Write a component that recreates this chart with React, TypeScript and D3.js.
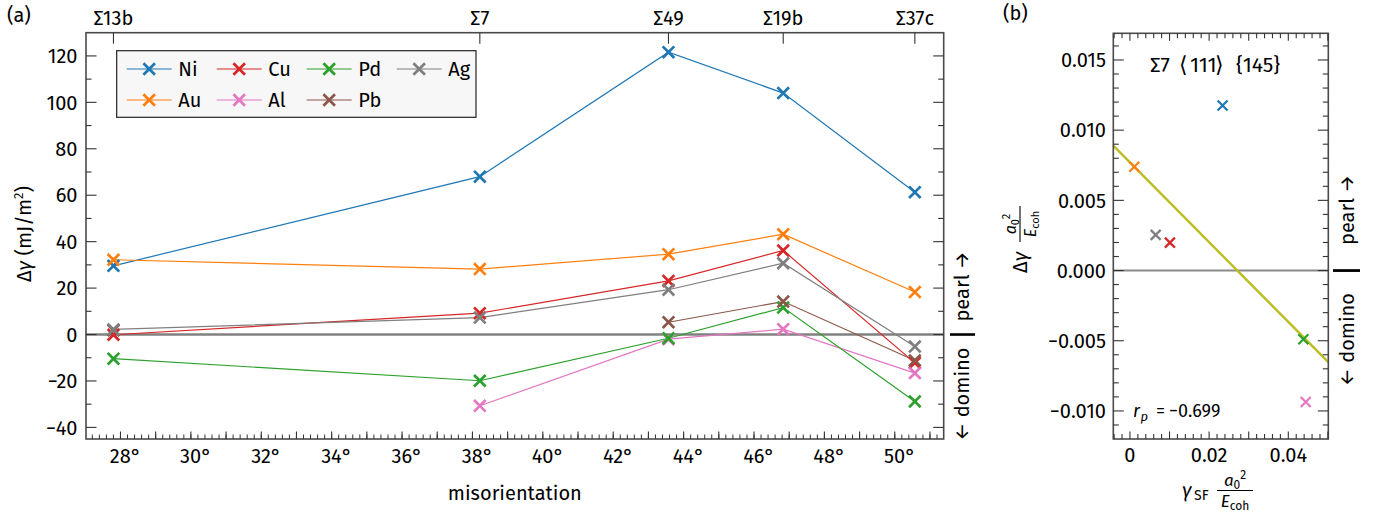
import React from "react";
import * as d3 from "d3";

// ---------- data: panel (a) ----------
const boundaryLabels = ["Σ13b", "Σ7", "Σ49", "Σ19b", "Σ37c"];
const misorientation = [27.8, 38.21, 43.57, 46.83, 50.57];
const elementNames = ["Ni", "Au", "Cu", "Al", "Pd", "Pb", "Ag"];
const elementColors = ["#1f77b4", "#ff7f0e", "#d62728", "#e377c2", "#2ca02c", "#8c564b", "#7f7f7f"];
const dGammaNi = [29.6, 68.0, 121.6, 104.0, 61.3];
const dGammaAu = [32.2, 28.2, 34.6, 43.2, 18.3];
const dGammaCu = [-0.1, 9.2, 23.1, 36.2, -12.2];
const dGammaAl: (number | null)[] = [null, -30.7, -2.0, 2.3, -16.6];
const dGammaPd = [-10.4, -19.9, -1.6, 11.6, -28.8];
const dGammaPb: (number | null)[] = [1.8, null, 5.3, 14.2, -11.2];
const dGammaAg = [2.2, 7.3, 19.3, 30.7, -5.2];
const yTickLabelsA = [-40, -20, 0, 20, 40, 60, 80, 100, 120];
const xTickLabelsA = [28, 30, 32, 34, 36, 38, 40, 42, 44, 46, 48, 50];

// ---------- data: panel (b) ----------
const sfElements = ["Ni", "Au", "Cu", "Al", "Pd", "Ag"];
const sfGammaSF = [0.0234, 0.0011, 0.0101, 0.0444, 0.0438, 0.0065];
const sfDGamma = [0.01175, 0.0074, 0.00199, -0.00937, -0.00489, 0.00254];
const fitIntercept = 0.0077;
const fitSlope = -0.284;
const pearsonR = "−0.699";
const yTickLabelsB = [-0.01, -0.005, 0, 0.005, 0.01, 0.015];
const xTickLabelsB = [0, 0.02, 0.04];

const seriesA = [dGammaNi, dGammaAu, dGammaCu, dGammaAl, dGammaPd, dGammaPb, dGammaAg];

const FONT = "'Fira Sans', 'Open Sans', 'Noto Sans', sans-serif";
const FS = 20;
const SPINE = "#4a4a4a";
const TICK = "#333";
const BRACKET_FONT = "'DejaVu Sans', sans-serif";

const fmtMinus = (s: string) => s.replace("-", "−");

function XMark({ x, y, s, color, w }: { x: number; y: number; s: number; color: string; w: number }) {
  return (
    <path
      d={`M${x - s},${y - s}L${x + s},${y + s}M${x - s},${y + s}L${x + s},${y - s}`}
      stroke={color}
      strokeWidth={w}
      fill="none"
    />
  );
}

export default function App() {
  // ----- panel a geometry -----
  const aL = 86, aR = 943.7, aT = 32.7, aB = 439;
  const xA = d3.scaleLinear().domain([27.02, 51.39]).range([aL, aR]);
  const yA = d3.scaleLinear().domain([-45, 130]).range([aB, aT]);

  // ----- panel b geometry -----
  const bL = 1113.3, bR = 1328.3, bT = 33.3, bB = 439;
  const xB = d3.scaleLinear().domain([-0.0042, 0.0501]).range([bL, bR]);
  const yB = d3.scaleLinear().domain([-0.012, 0.0169]).range([bB, bT]);

  const lineA = d3
    .line<number | null>()
    .defined((d) => d != null)
    .x((_, i) => xA(misorientation[i]))
    .y((d) => yA(d as number));

  const xMinorA = d3.range(27.2, 51.39, 0.2).map((v) => +v.toFixed(1));
  const xMajorA = d3.range(28, 52, 1).filter((v) => v <= 51.39);
  const yMinorA = d3.range(-40, 130, 10);
  const yMinorB = d3.range(-11, 17, 1).map((v) => v / 1000);
  const yMajorB = yTickLabelsB;
  const xMinorB = d3.range(-4, 51, 2).map((v) => v / 1000);
  const xMajorB = [0, 0.01, 0.02, 0.03, 0.04, 0.05];

  const fitX0 = xB.domain()[0];
  const fitX1 = xB.domain()[1];

  // legend layout
  const legX = 116.7, legY = 50.7, legW = 359.3, legH = 66.6;

  return (
    <svg
      width={1383}
      height={517}
      style={{ position: "absolute", left: 0, top: 0, background: "#fff" }}
      fontFamily={FONT}
      fontSize={FS}
    >
      <rect x={0} y={0} width={1383} height={517} fill="#fff" />

      {/* ================= PANEL A ================= */}
      <text x={7} y={22} fontSize={FS}>(a)</text>

      {/* zero line */}
      <line x1={aL} x2={aR} y1={yA(0)} y2={yA(0)} stroke="#808080" strokeWidth={2.4} />

      {/* series lines */}
      {seriesA.map((s, k) => (
        <path key={"l" + k} d={lineA(s) || ""} fill="none" stroke={elementColors[k]} strokeWidth={1.2} />
      ))}
      {seriesA.map((s, k) =>
        s.map((v, i) =>
          v == null ? null : (
            <XMark key={`m${k}-${i}`} x={xA(misorientation[i])} y={yA(v)} s={5.8} color={elementColors[k]} w={2.7} />
          )
        )
      )}

      {/* spines */}
      <rect x={aL} y={aT} width={aR - aL} height={aB - aT} fill="none" stroke={SPINE} strokeWidth={1.6} />

      {/* bottom ticks */}
      {xMinorA.map((v) => (
        <line key={"xm" + v} x1={xA(v)} x2={xA(v)} y1={aB} y2={aB - 4.5} stroke={TICK} strokeWidth={1} />
      ))}
      {xMajorA.map((v) => (
        <line key={"xM" + v} x1={xA(v)} x2={xA(v)} y1={aB} y2={aB - 7.5} stroke={TICK} strokeWidth={1.1} />
      ))}
      {xTickLabelsA.map((v) => (
        <text key={"xl" + v} x={xA(v) + 5} y={463} textAnchor="middle">{`${v}°`}</text>
      ))}

      {/* top ticks (boundaries) */}
      {misorientation.map((v, i) => (
        <g key={"top" + i}>
          <line x1={xA(v)} x2={xA(v)} y1={aT} y2={aT + 11} stroke={TICK} strokeWidth={1.1} />
          <text x={xA(v)} y={25} textAnchor="middle">{boundaryLabels[i]}</text>
        </g>
      ))}

      {/* y ticks both sides */}
      {yMinorA.map((v) => {
        const major = v % 20 === 0;
        const len = major ? 10.5 : 5.5;
        return (
          <g key={"ya" + v}>
            <line x1={aL} x2={aL + len} y1={yA(v)} y2={yA(v)} stroke={TICK} strokeWidth={1.1} />
            <line x1={aR} x2={aR - len} y1={yA(v)} y2={yA(v)} stroke={TICK} strokeWidth={1.1} />
          </g>
        );
      })}
      {yTickLabelsA.map((v) => (
        <text key={"yl" + v} x={77.5} y={yA(v)} dy="0.36em" textAnchor="end">{fmtMinus(String(v))}</text>
      ))}

      {/* axis labels */}
      <text x={(aL + aR) / 2} y={500} textAnchor="middle">misorientation</text>
      <text transform={`translate(31,234) rotate(-90)`} textAnchor="middle">
        Δ<tspan fontStyle="italic">γ</tspan> (mJ/m<tspan fontSize={13} dy={-8}>2</tspan><tspan dy={8}>)</tspan>
      </text>

      {/* domino / pearl */}
      <text transform={`translate(968.5,${yA(0) - 13}) rotate(-90)`} textAnchor="start">pearl →</text>
      <text transform={`translate(968.5,${yA(0) + 13}) rotate(-90)`} textAnchor="end">← domino</text>
      <line x1={950} x2={975} y1={yA(0)} y2={yA(0)} stroke="#000" strokeWidth={2.6} />

      {/* legend */}
      <rect x={legX} y={legY} width={legW} height={legH} fill="#f7f7f7" stroke="#222" strokeWidth={1.2} />
      {elementNames.map((name, i) => {
        const col = Math.floor(i / 2);
        const row = i % 2;
        const lx = 126.7 + col * 90;
        const ly = 69 + row * 31;
        return (
          <g key={"leg" + name}>
            <line x1={lx} x2={lx + 45} y1={ly} y2={ly} stroke={elementColors[i]} strokeWidth={1.2} />
            <XMark x={lx + 22.5} y={ly} s={5.8} color={elementColors[i]} w={2.7} />
            <text x={lx + 51.6} y={ly} dy="0.36em">{name}</text>
          </g>
        );
      })}

      {/* ================= PANEL B ================= */}
      <text x={1003} y={20} fontSize={FS}>(b)</text>

      <line x1={bL} x2={bR} y1={yB(0)} y2={yB(0)} stroke="#8a8a8a" strokeWidth={2} />
      <line
        x1={xB(fitX0)}
        x2={xB(fitX1)}
        y1={yB(fitIntercept + fitSlope * fitX0)}
        y2={yB(fitIntercept + fitSlope * fitX1)}
        stroke="#bcbd22"
        strokeWidth={2.4}
      />
      {sfElements.map((name, i) => (
        <XMark
          key={"b" + name}
          x={xB(sfGammaSF[i])}
          y={yB(sfDGamma[i])}
          s={5}
          color={elementColors[elementNames.indexOf(name)]}
          w={2.2}
        />
      ))}

      <rect x={bL} y={bT} width={bR - bL} height={bB - bT} fill="none" stroke={SPINE} strokeWidth={1.6} />

      {yMinorB.map((v) => {
        const major = yMajorB.some((m) => Math.abs(m - v) < 1e-9);
        const len = major ? 10.5 : 5.5;
        return (
          <g key={"yb" + v}>
            <line x1={bL} x2={bL + len} y1={yB(v)} y2={yB(v)} stroke={TICK} strokeWidth={1.1} />
            <line x1={bR} x2={bR - len} y1={yB(v)} y2={yB(v)} stroke={TICK} strokeWidth={1.1} />
          </g>
        );
      })}
      {yTickLabelsB.map((v) => (
        <text key={"ylb" + v} x={1106} y={yB(v)} dy="0.36em" textAnchor="end">
          {fmtMinus(v.toFixed(3))}
        </text>
      ))}
      {xMinorB.map((v) => {
        const major = xMajorB.some((m) => Math.abs(m - v) < 1e-9);
        const len = major ? 7.5 : 5;
        return (
          <g key={"xb" + v}>
            <line x1={xB(v)} x2={xB(v)} y1={bB} y2={bB - len} stroke={TICK} strokeWidth={1.1} />
            <line x1={xB(v)} x2={xB(v)} y1={bT} y2={bT + len} stroke={TICK} strokeWidth={1.1} />
          </g>
        );
      })}
      {xTickLabelsB.map((v) => (
        <text key={"xlb" + v} x={xB(v)} y={462} textAnchor="middle">{v === 0 ? "0" : String(v)}</text>
      ))}

      {/* annotation: boundary */}
      <text y={71.5} fontSize={21}>
        <tspan x={1150}>Σ7</tspan>
        <tspan x={1179} fontFamily={BRACKET_FONT} fontSize={22}>⟨</tspan>
        <tspan x={1190}>111</tspan>
        <tspan x={1215} fontFamily={BRACKET_FONT} fontSize={22}>⟩</tspan>
        <tspan x={1236}>{"{145}"}</tspan>
      </text>
      {/* annotation: pearson */}
      <text y={416.5} fontSize={18}>
        <tspan x={1133} fontStyle="italic">r</tspan>
        <tspan x={1140.5} fontStyle="italic" fontSize={13} dy={4}>p</tspan>
        <tspan x={1156} dy={-4}>=</tspan>
        <tspan x={1169}>{pearsonR}</tspan>
      </text>

      {/* x label b */}
      <text x={1182} y={497} fontStyle="italic">γ</text>
      <text x={1194} y={500} fontSize={14}>SF</text>
      <line x1={1217} x2={1253} y1={490.5} y2={490.5} stroke="#000" strokeWidth={1.1} />
      <text x={1235} y={486} fontSize={17} textAnchor="middle">
        <tspan fontStyle="italic">a</tspan>
        <tspan fontSize={12} dy={3}>0</tspan>
        <tspan fontSize={12} dy={-10}>2</tspan>
      </text>
      <text x={1235} y={507} fontSize={17} textAnchor="middle">
        <tspan fontStyle="italic">E</tspan>
        <tspan fontSize={12} dy={3}>coh</tspan>
      </text>

      {/* y label b (rotated) */}
      <g transform={`translate(1027,236) rotate(-90)`}>
        <text x={-37} y={0}>
          Δ<tspan fontStyle="italic">γ</tspan>
        </text>
        <line x1={-6} x2={30} y1={-7} y2={-7} stroke="#000" strokeWidth={1.1} />
        <text x={12} y={-11} fontSize={16} textAnchor="middle">
          <tspan fontStyle="italic">a</tspan>
          <tspan fontSize={11} dy={3}>0</tspan>
          <tspan fontSize={11} dy={-9}>2</tspan>
        </text>
        <text x={12} y={9} fontSize={16} textAnchor="middle">
          <tspan fontStyle="italic">E</tspan>
          <tspan fontSize={11} dy={3}>coh</tspan>
        </text>
      </g>

      {/* domino / pearl b */}
      <text transform={`translate(1353.5,245) rotate(-90)`} textAnchor="start">pearl →</text>
      <text transform={`translate(1353.5,293) rotate(-90)`} textAnchor="end">← domino</text>
      <line x1={1333} x2={1360} y1={yB(0)} y2={yB(0)} stroke="#000" strokeWidth={2.8} />
    </svg>
  );
}
